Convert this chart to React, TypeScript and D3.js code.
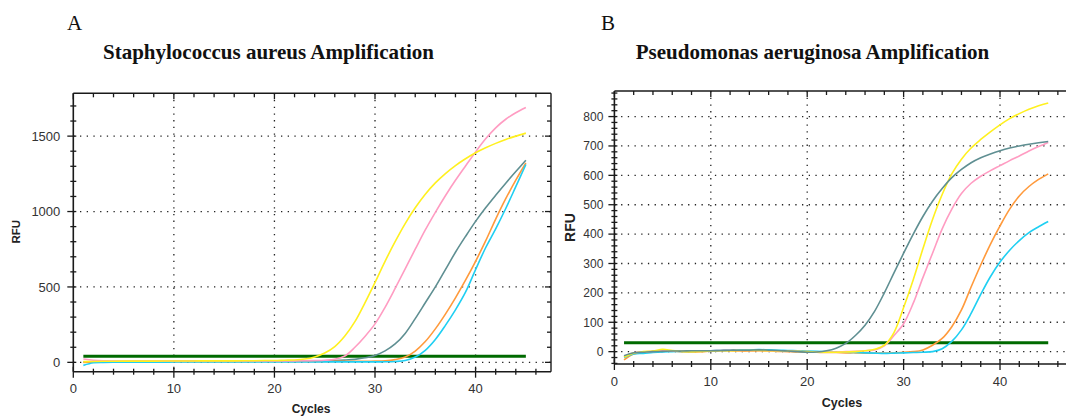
import React from "react";
import * as d3 from "d3";

// ---------- DATA ----------
const cycles = [1,2,3,4,5,6,7,8,9,10,11,12,13,14,15,16,17,18,19,20,21,22,23,24,25,26,27,28,29,30,31,32,33,34,35,36,37,38,39,40,41,42,43,44,45];

const xTickLabels = [0, 10, 20, 30, 40];
const yTickLabelsA = [0, 500, 1000, 1500];
const yTickLabelsB = [0, 100, 200, 300, 400, 500, 600, 700, 800];

const thresholdA = 40;
const thresholdB = 30;

// Staphylococcus aureus (panel A)
const yellowA = [5,6,7,7,8,8,8,8,9,9,9,9,10,10,10,10,11,11,12,12,14,16,22,36,62,105,175,270,395,530,670,800,920,1025,1115,1190,1252,1305,1350,1390,1423,1452,1478,1500,1520];
const pinkA = [22,14,10,9,9,8,8,8,9,9,9,9,9,9,10,10,10,10,10,10,10,10,11,12,14,20,42,100,172,255,365,490,620,750,878,995,1105,1207,1302,1395,1482,1555,1612,1655,1690];
const grayA = [2,4,6,6,6,7,7,7,7,8,8,8,8,8,8,9,9,9,9,9,10,10,10,11,11,12,15,20,30,46,76,122,192,290,395,500,615,730,835,935,1025,1108,1188,1265,1340];
const orangeA = [0,2,3,4,4,4,4,5,5,5,5,5,5,5,5,5,5,6,6,6,6,6,6,6,6,7,7,7,7,8,10,18,35,75,138,222,320,428,545,670,805,950,1085,1208,1322];
const cyanA = [-20,-3,0,1,1,1,1,1,1,2,2,2,2,2,2,2,2,2,2,2,2,2,2,2,3,3,3,3,3,3,4,6,12,35,80,152,245,348,465,615,760,885,1020,1165,1312];

// Pseudomonas aeruginosa (panel B)
const yellowB = [-18,-5,0,2,8,4,1,0,1,2,3,3,4,4,4,3,3,2,1,0,-1,-2,-2,-1,0,3,8,22,65,150,245,350,450,535,605,655,693,722,748,772,793,810,825,837,846];
const grayB = [-14,-4,-2,0,1,2,2,3,3,3,4,5,5,5,6,5,4,2,0,-2,-1,3,12,28,55,90,138,200,268,335,400,460,512,555,592,620,643,660,673,684,693,700,706,711,715];
const pinkB = [-16,-4,-1,1,2,2,2,3,3,3,4,5,4,4,4,3,3,2,1,0,-1,-1,-1,0,1,3,6,20,55,95,165,252,335,418,485,538,573,597,616,633,650,666,683,698,712];
const orangeB = [-28,-8,-2,1,3,2,0,-1,0,2,3,3,2,2,3,2,1,0,-1,-1,-2,-3,-3,-4,-4,-5,-5,-5,-4,-2,0,6,22,45,85,142,220,295,365,428,485,530,562,586,605];
const cyanB = [-20,-8,-6,-3,-1,0,1,1,2,3,4,5,6,6,7,6,5,4,3,2,1,0,-1,-2,-3,-4,-5,-6,-5,-4,-3,-2,0,10,35,74,130,195,255,305,345,378,405,425,443];

const COLORS = {
  yellow: "#fff01f",
  pink: "#ff9cc2",
  gray: "#5f8f92",
  orange: "#ff9a3c",
  cyan: "#1fcff2",
  green: "#006a00",
};

const seriesA = [
  { name: "gray", values: grayA },
  { name: "orange", values: orangeA },
  { name: "cyan", values: cyanA },
  { name: "pink", values: pinkA },
  { name: "yellow", values: yellowA },
];
const seriesB = [
  { name: "orange", values: orangeB },
  { name: "cyan", values: cyanB },
  { name: "pink", values: pinkB },
  { name: "yellow", values: yellowB },
  { name: "gray", values: grayB },
];

type PanelProps = {
  x: d3.ScaleLinear<number, number>;
  y: d3.ScaleLinear<number, number>;
  yTicks: number[];
  yMinorStep: number;
  yMinorMin: number;
  yMinorMax: number;
  series: { name: string; values: number[] }[];
  threshold: number;
  tickFont: number;
  xTickFont: number;
  xLabelDy: number;
  yLabelGap: number;
  rightFrame: boolean;
};

function Panel(p: PanelProps) {
  const { x, y } = p;
  const [x0, x1] = x.range();
  const [yb, yt] = y.range();
  const line = d3
    .line<number>()
    .x((_, i) => x(cycles[i]))
    .y((d) => y(d))
    .curve(d3.curveCatmullRom.alpha(0.5));
  const xMinor = d3.range(0, x.domain()[1], 2);
  const yMinor = d3.range(p.yMinorMin, p.yMinorMax + 0.001, p.yMinorStep);
  const stroke = "#1a1a1a";
  const grid = { stroke: "#222", strokeWidth: 1.3, strokeDasharray: "1.3 5.4" };
  return (
    <g>
      {xTickLabels.filter((t) => t > 0).map((t) => (
        <line key={"gx" + t} x1={x(t)} x2={x(t)} y1={yt} y2={yb} {...grid} />
      ))}
      {p.yTicks.map((t) => (
        <line key={"gy" + t} x1={x0} x2={Math.min(x1, 1066)} y1={y(t)} y2={y(t)} {...grid} />
      ))}
      <line x1={x(1)} x2={x(45)} y1={y(p.threshold)} y2={y(p.threshold)} stroke={COLORS.green} strokeWidth={3} />
      {p.series.map((s) => (
        <path key={s.name} d={line(s.values) || ""} fill="none" stroke={(COLORS as any)[s.name]} strokeWidth={1.6} />
      ))}
      <line x1={x0} x2={x1} y1={yt} y2={yt} stroke={stroke} strokeWidth={1.4} />
      <line x1={x0} x2={x1} y1={yb} y2={yb} stroke={stroke} strokeWidth={1.6} />
      <line x1={x0} x2={x0} y1={yt} y2={yb} stroke={stroke} strokeWidth={1.6} />
      {p.rightFrame && <line x1={x1} x2={x1} y1={yt} y2={yb} stroke={stroke} strokeWidth={1.4} />}
      {xMinor.map((t) => {
        const major = t % 10 === 0;
        return (
          <g key={"xt" + t}>
            <line x1={x(t)} x2={x(t)} y1={yb - (major ? 5 : 3)} y2={yb + (major ? 6 : 3)} stroke={stroke} strokeWidth={1.3} />
            <line x1={x(t)} x2={x(t)} y1={yt} y2={yt + (major ? 6 : 4)} stroke={stroke} strokeWidth={1.3} />
          </g>
        );
      })}
      {yMinor.map((t) => {
        const major = p.yTicks.includes(t);
        return (
          <g key={"yt" + t}>
            <line x1={x0 - (major ? 6 : 3)} x2={x0 + 3} y1={y(t)} y2={y(t)} stroke={stroke} strokeWidth={1.3} />
            {p.rightFrame && <line x1={x1 - (major ? 6 : 4)} x2={x1} y1={y(t)} y2={y(t)} stroke={stroke} strokeWidth={1.3} />}
          </g>
        );
      })}
      {xTickLabels.map((t) => (
        <text key={"xl" + t} x={x(t)} y={yb + p.xLabelDy} textAnchor="middle" fontFamily="Liberation Sans, Arial, sans-serif" fontSize={p.xTickFont} fill="#333">
          {t}
        </text>
      ))}
      {p.yTicks.map((t) => (
        <text key={"yl" + t} x={x0 - p.yLabelGap} y={y(t)} dy="0.36em" textAnchor="end" fontFamily="Liberation Sans, Arial, sans-serif" fontSize={p.tickFont} fill="#333">
          {t}
        </text>
      ))}
    </g>
  );
}

export default function App() {
  const xA = d3.scaleLinear().domain([0, 47.5]).range([73.3, 551]);
  const yA = d3.scaleLinear().domain([-62, 1784]).range([371.7, 93.3]);
  const xB = d3.scaleLinear().domain([0, 47]).range([614.4, 1067.5]);
  const yB = d3.scaleLinear().domain([-42, 887]).range([364, 91]);
  const serif = "Liberation Serif, Times New Roman, serif";
  const sans = "Liberation Sans, Arial, sans-serif";
  return (
    <svg width={1066} height={416} style={{ position: "absolute", left: 0, top: 0, background: "#fff" }}>
      <rect width={1066} height={416} fill="#fff" />
      <text x={67} y={29.5} fontFamily={serif} fontSize={21} fill="#111">A</text>
      <text x={601} y={29.5} fontFamily={serif} fontSize={21} fill="#111">B</text>
      <text x={268.5} y={58.5} textAnchor="middle" fontFamily={serif} fontWeight="bold" fontSize={21} fill="#111">
        Staphylococcus aureus Amplification
      </text>
      <text x={812.5} y={58.5} textAnchor="middle" fontFamily={serif} fontWeight="bold" fontSize={21} fill="#111">
        Pseudomonas aeruginosa Amplification
      </text>
      <Panel x={xA} y={yA} yTicks={yTickLabelsA} yMinorStep={100} yMinorMin={0} yMinorMax={1700} series={seriesA} threshold={thresholdA} tickFont={13} xTickFont={13} xLabelDy={21} yLabelGap={13} rightFrame={true} />
      <Panel x={xB} y={yB} yTicks={yTickLabelsB} yMinorStep={20} yMinorMin={-40} yMinorMax={880} series={seriesB} threshold={thresholdB} tickFont={12} xTickFont={13} xLabelDy={22} yLabelGap={11} rightFrame={false} />
      <text transform="translate(20,231.7) rotate(-90)" textAnchor="middle" fontFamily={sans} fontWeight="bold" fontSize={11.5} fill="#222">RFU</text>
      <text transform="translate(575,227.5) rotate(-90)" textAnchor="middle" fontFamily={sans} fontWeight="bold" fontSize={14} fill="#222">RFU</text>
      <text x={311} y={412.5} textAnchor="middle" fontFamily={sans} fontWeight="bold" fontSize={12} fill="#222">Cycles</text>
      <text x={842} y={407} textAnchor="middle" fontFamily={sans} fontWeight="bold" fontSize={12.5} fill="#222">Cycles</text>
    </svg>
  );
}
